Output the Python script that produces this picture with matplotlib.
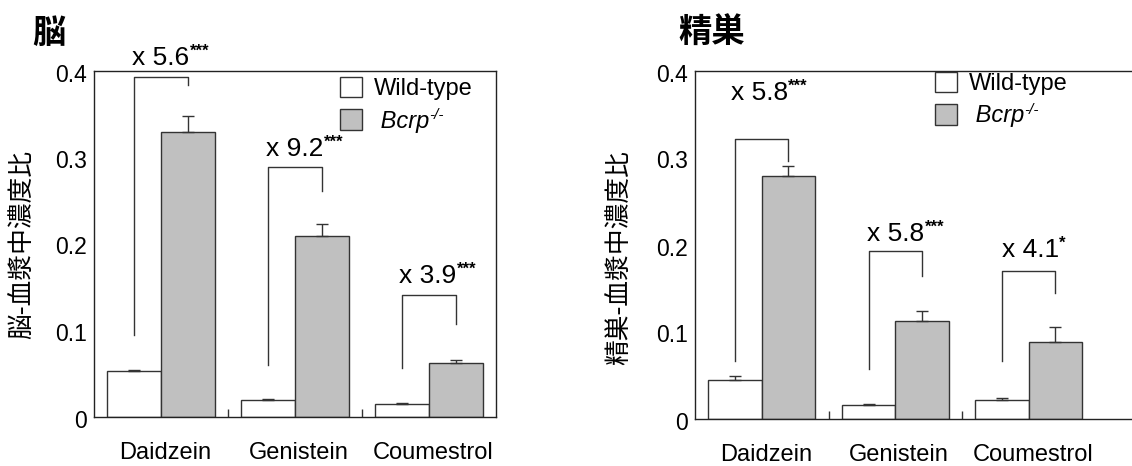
import matplotlib
matplotlib.use("Agg")
import matplotlib.pyplot as plt
import matplotlib.transforms as mtransforms
import numpy as np
from matplotlib.patches import Patch

plt.rcParams["font.family"] = ["Liberation Sans", "Noto Sans CJK JP", "DejaVu Sans"]

# ---- dados ----
compostos = ["Daidzein", "Genistein", "Coumestrol"]

cerebro_wt = [0.053, 0.020, 0.0155]
cerebro_wt_err = [0.001, 0.001, 0.001]
cerebro_ko = [0.329, 0.2095, 0.063]
cerebro_ko_err = [0.019, 0.014, 0.003]
cerebro_fator = ["x 5.6", "x 9.2", "x 3.9"]
cerebro_sig = ["***", "***", "***"]
# altura do colchete, perna esquerda, perna direita, base do texto
cerebro_colchete = [(0.393, 0.095, 0.384, 0.407),
                    (0.289, 0.060, 0.261, 0.302),
                    (0.141, 0.057, 0.1075, 0.155)]
cerebro_txt_x = [0.50, 1.50, 2.49]

testiculo_wt = [0.045, 0.016, 0.0215]
testiculo_wt_err = [0.004, 0.001, 0.003]
testiculo_ko = [0.279, 0.1125, 0.0888]
testiculo_ko_err = [0.0115, 0.012, 0.017]
testiculo_fator = ["x 5.8", "x 5.8", "x 4.1"]
testiculo_sig = ["***", "***", "*"]
testiculo_colchete = [(0.322, 0.067, 0.297, 0.367),
                      (0.193, 0.058, 0.164, 0.205),
                      (0.170, 0.067, 0.145, 0.186)]
testiculo_txt_x = [0.48, 1.50, 2.51]

W, H = 1132, 466
fig = plt.figure(figsize=(W / 100, H / 100), dpi=100)

COR_BORDA = "#333333"
COR_KO = "#c0c0c0"


def painel(ax, wt, wt_err, ko, ko_err, fator, sig, colchete, txt_x, xmax, leg_xy):
    x = np.arange(len(compostos)) + 0.5
    larg = 0.4
    ax.bar(x - larg / 2, wt, larg, color="white", edgecolor=COR_BORDA, linewidth=1.0, zorder=2)
    ax.bar(x + larg / 2, ko, larg, color=COR_KO, edgecolor=COR_BORDA, linewidth=1.0, zorder=2)
    ax.errorbar(x - larg / 2, wt, yerr=[np.zeros(3), wt_err], fmt="none",
                ecolor=COR_BORDA, elinewidth=1.0, capsize=4, capthick=1.0, zorder=3)
    ax.errorbar(x + larg / 2, ko, yerr=[np.zeros(3), ko_err], fmt="none",
                ecolor=COR_BORDA, elinewidth=1.0, capsize=4, capthick=1.0, zorder=3)

    for i in range(3):
        topo, pe, pd, base = colchete[i]
        xl, xr = x[i] - larg / 2, x[i] + larg / 2
        ax.plot([xl, xl, xr, xr], [pe, topo, topo, pd], color=COR_BORDA,
                linewidth=1.0, clip_on=False, zorder=4)
        t = ax.text(txt_x[i], base, fator[i], fontsize=19, ha="center",
                    va="baseline", clip_on=False)
        ax.annotate(sig[i], xy=(1, 1), xycoords=t, xytext=(0.5, 1.5),
                    textcoords="offset points", fontsize=12, fontweight="bold",
                    ha="left", va="top", annotation_clip=False)

    ax.set_xlim(0, xmax)
    ax.set_ylim(0, 0.4)
    ax.set_yticks([0, 0.1, 0.2, 0.3, 0.4])
    ax.set_yticklabels(["0", "0.1", "0.2", "0.3", "0.4"])
    ax.tick_params(axis="y", length=0, pad=5, labelsize=16.5)
    desloca = mtransforms.ScaledTranslation(0, -4 / 100, fig.dpi_scale_trans)
    for lab in ax.get_yticklabels():
        lab.set_va("center")
        lab.set_transform(lab.get_transform() + desloca)
    ax.set_xticks([1, 2])
    ax.set_xticklabels([])
    ax.tick_params(axis="x", which="major", direction="in", length=6, width=1.0,
                   color=COR_BORDA)
    ax.set_xticks(x + 0.03, minor=True)
    ax.set_xticklabels(compostos, minor=True)
    ax.tick_params(axis="x", which="minor", length=0, pad=18, labelsize=17)
    for s in ax.spines.values():
        s.set_linewidth(1.0)
        s.set_color("#222222")

    handles = [Patch(facecolor="white", edgecolor=COR_BORDA, linewidth=1.0),
               Patch(facecolor=COR_KO, edgecolor=COR_BORDA, linewidth=1.0)]
    leg = ax.legend(handles, ["Wild-type", " Bcrp"], loc="upper left",
                    bbox_to_anchor=leg_xy, bbox_transform=ax.transData,
                    frameon=False, fontsize=17, borderpad=0, borderaxespad=0,
                    handlelength=0.95, handleheight=0.95, handletextpad=0.5,
                    labelspacing=0.38)
    txt_ko = leg.get_texts()[1]
    txt_ko.set_fontstyle("italic")
    ax.annotate("-/-", xy=(1, 1), xycoords=txt_ko, xytext=(0, 1),
                textcoords="offset points", fontsize=11, fontstyle="italic",
                ha="left", va="top", annotation_clip=False, zorder=10)


ax1 = fig.add_axes([94 / W, (H - 417) / H, 402 / W, 346 / H])
painel(ax1, cerebro_wt, cerebro_wt_err, cerebro_ko, cerebro_ko_err,
       cerebro_fator, cerebro_sig, cerebro_colchete, cerebro_txt_x, 3.0, (1.835, 0.393))

larg_px = 1150 - 695
ax2 = fig.add_axes([695 / W, (H - 419) / H, larg_px / W, 348 / H])
painel(ax2, testiculo_wt, testiculo_wt_err, testiculo_ko, testiculo_ko_err,
       testiculo_fator, testiculo_sig, testiculo_colchete, testiculo_txt_x,
       larg_px / 133.5, (1.795, 0.399))
ax2.spines["right"].set_visible(False)

# títulos e rótulos do eixo y
fig.text(32 / W, 1 - 33 / H, "脳", fontsize=24, fontweight="bold",
         family=["Noto Sans CJK JP"], ha="left", va="center")
fig.text(678 / W, 1 - 33 / H, "精巣", fontsize=24, fontweight="bold",
         family=["Noto Sans CJK JP"], ha="left", va="center")
fig.text(22 / W, 1 - 150 / H, "脳-血漿中濃度比", fontsize=18.5, rotation=90,
         family=["Noto Sans CJK JP"], ha="center", va="top")
fig.text(619 / W, 1 - 150 / H, "精巣-血漿中濃度比", fontsize=18.5, rotation=90,
         family=["Noto Sans CJK JP"], ha="center", va="top")

fig.savefig("out.png", dpi=100)
